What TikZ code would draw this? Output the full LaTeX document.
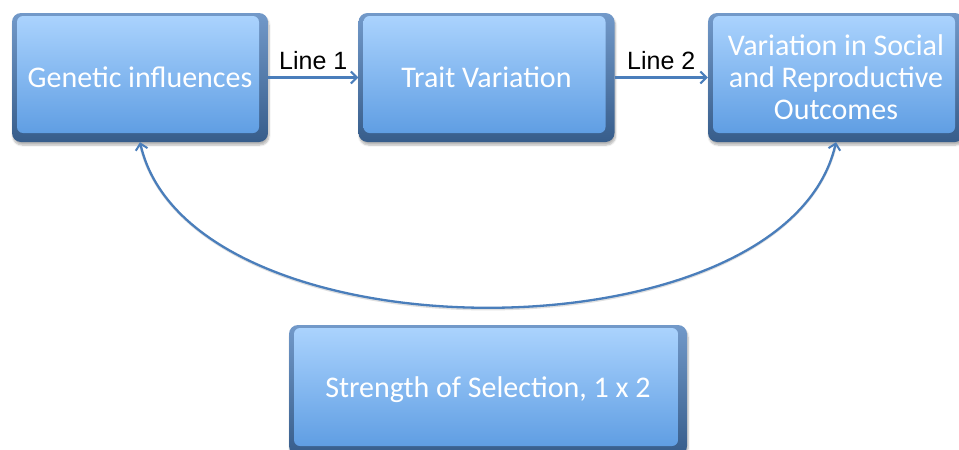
\documentclass[tikz,border=0pt]{standalone}
\usepackage{fontspec}
\setmainfont{Carlito}
\newfontfamily\labelfont{Liberation Sans}
\usetikzlibrary{arrows.meta,shadows.blur}

\definecolor{panelTop}{HTML}{ACD4FE}
\definecolor{panelBot}{HTML}{5A9AE1}
\definecolor{rimTop}{HTML}{7299C9}
\definecolor{rimBot}{HTML}{375D8B}
\definecolor{linkBlue}{HTML}{4A7EBB}

\tikzset{
  panel/.style={
    rounded corners=9pt, inner sep=0pt, align=center,
    text=white, font=\fontsize{30}{32}\selectfont,
    top color=rimTop, bottom color=rimBot,
    blur shadow={shadow xshift=1pt, shadow yshift=-3pt, shadow blur steps=6, shadow opacity=30},
    path picture={
      \shade[rounded corners=6pt, top color=panelTop, bottom color=panelBot]
        ([xshift=5pt,yshift=-3pt]path picture bounding box.north west)
        rectangle ([xshift=-9pt,yshift=9pt]path picture bounding box.south east);
    }
  },
  barb/.tip={Straight Barb[length=6pt,width=12pt,line width=2pt]},
  link/.style={draw=linkBlue, line width=2.3pt, -barb},
  linklabel/.style={font=\labelfont\fontsize{25}{27}\selectfont, text=black, inner sep=0pt}
}

\begin{document}
\begin{tikzpicture}[x=1pt,y=-1pt]
  \useasboundingbox (0,0) rectangle (959,450);

  \node[panel, minimum width=256pt, minimum height=129pt] (gen) at (140,77.5) {Genetic influences};
  \node[panel, minimum width=256pt, minimum height=129pt] (trait) at (486.5,77.5) {Trait Variation};
  \node[panel, minimum width=256pt, minimum height=129pt] (outc) at (836,77.5)
    {Variation in Social\\and Reproductive\\Outcomes};
  \node[panel, minimum width=398pt, minimum height=130pt] (sel) at (488,390)
    {Strength of Selection, 1 x 2};

  \draw[link] (gen.east) -- node[linklabel, above=7pt] {Line 1} (trait.west);
  \draw[link] (trait.east) -- node[linklabel, above=7pt] {Line 2} (outc.west);

  % feedback arc from the outcomes back to the genetic influences, with a soft shadow
  \draw[black!40, line width=2.5pt, opacity=0.3]
    ([yshift=-2pt]outc.south) .. controls +(-50,220) and +(50,220) .. ([yshift=-2pt]gen.south);
  \draw[link, barb-barb]
    (outc.south) .. controls +(-50,220) and +(50,220) .. (gen.south);
\end{tikzpicture}
\end{document}
